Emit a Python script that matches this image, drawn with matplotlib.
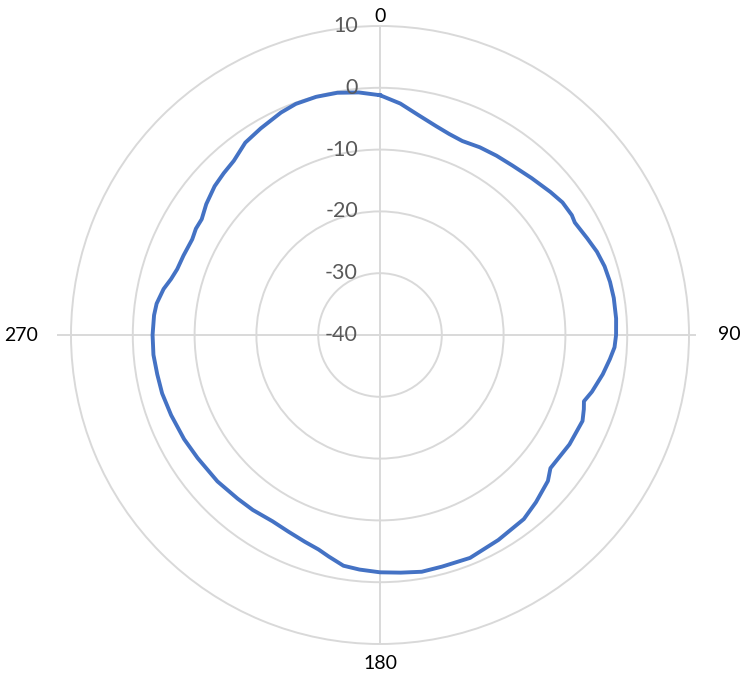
import numpy as np
import matplotlib
matplotlib.use("Agg")
import matplotlib.pyplot as plt
from matplotlib.transforms import offset_copy

# Angle (degrees, clockwise from top) and level (dB)
angles_deg = [0, 5, 10, 15, 19, 23, 28, 33, 38, 44, 50, 54, 58, 60, 65, 69, 73, 77, 81, 86,
              90, 93, 96, 100, 105, 108, 110, 113, 120, 128, 131, 137, 142, 150, 158, 165,
              170, 175, 180, 185, 189, 193, 196, 200, 205, 210, 216, 221, 228, 236, 242,
              249, 255, 260, 265, 270, 275, 278, 282, 285, 288, 292, 297, 300, 303, 307,
              312, 316, 320, 325, 330, 336, 340, 345, 350, 355]
levels_db = [-1.2, -2.4, -3.9, -5.0, -5.6, -5.9, -5.6, -5.4, -5.2, -4.7, -4.0, -3.5, -3.4, -3.6,
             -3.0, -2.4, -2.0, -1.8, -1.7, -1.7, -1.8, -2.0, -2.6, -3.4, -4.5, -5.3, -4.9,
             -4.4, -4.6, -5.0, -4.0, -3.0, -2.2, -1.7, -1.1, -1.2, -1.1, -1.4, -1.6, -1.9,
             -2.2, -3.2, -3.9, -4.4, -4.9, -5.2, -5.0, -4.9, -4.6, -4.4, -4.1, -3.8, -3.5,
             -3.4, -3.2, -3.2, -3.3, -3.5, -4.2, -5.0, -5.5, -5.7, -5.9, -5.6, -5.6, -4.8,
             -4.0, -3.6, -3.2, -2.0, -1.4, -0.6, -0.2, -0.1, -0.2, -0.6]

r_ticks = [-40, -30, -20, -10, 0, 10]
r_tick_labels = ["-40", "-30", "-20", "-10", "0", "10"]
theta_ticks = [0, 90, 180, 270]
theta_tick_labels = ["0", "90", "180", "270"]

W, H = 746, 674
fig = plt.figure(figsize=(W / 100, H / 100), dpi=100)
cx, cy, R = 380, 335, 309
ax = fig.add_axes([(cx - R) / W, (H - cy - R) / H, 2 * R / W, 2 * R / H], projection="polar")
ax.set_theta_zero_location("N")
ax.set_theta_direction(-1)
ax.set_ylim(-40, 10)

grid_color = "#D9D9D9"
ax.set_rgrids([-30, -20, -10, 0], labels=[""] * 4)
ax.set_thetagrids(theta_ticks, labels=[""] * 4)
ax.grid(True, color=grid_color, linewidth=1.4)
ax.spines["polar"].set_color(grid_color)
ax.spines["polar"].set_linewidth(1.4)
ax.set_facecolor("white")
ax.tick_params(length=0)

# short extensions of the horizontal axis line beyond the outer ring
ax.plot([np.deg2rad(270)] * 2, [10, 12.1], color=grid_color, lw=1.4, clip_on=False)
ax.plot([np.deg2rad(90)] * 2, [10, 11.0], color=grid_color, lw=1.4, clip_on=False)

th = np.deg2rad(angles_deg + [angles_deg[0]])
rv = levels_db + [levels_db[0]]
ax.plot(th, rv, color="#4472C4", linewidth=2.8, solid_joinstyle="round", zorder=3)

font = "Lato"
# radial labels, just left of the 0-degree line
tr = offset_copy(ax.transData, fig=fig, x=-22, y=0, units="dots")
for r, lab in zip(r_ticks, r_tick_labels):
    ax.text(0, r, lab, transform=tr, ha="right", va="center", fontsize=15.5,
            color="#595959", family=font, zorder=4)

label_r = [11.6, 16.5, 13.2, 18.1]
for t, lab, rr in zip(theta_ticks, theta_tick_labels, label_r):
    ax.text(np.deg2rad(t), rr, lab, ha="center", va="center", fontsize=14,
            color="black", family=font, clip_on=False)

fig.savefig("out.png", dpi=100, facecolor="white")
